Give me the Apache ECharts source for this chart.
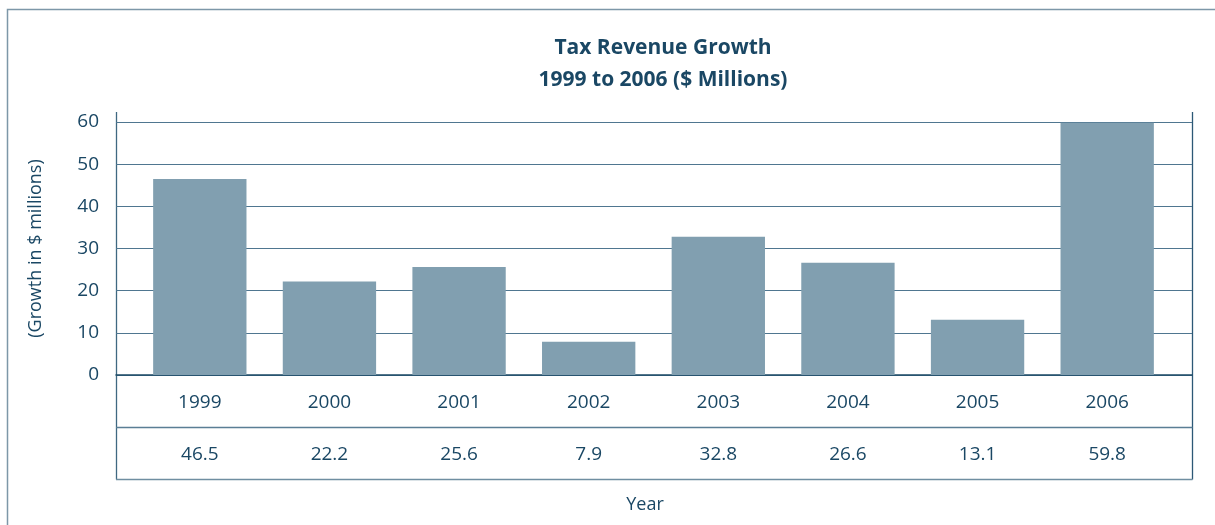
<!DOCTYPE html>
<html>
<head>
<meta charset="utf-8">
<style>
  html, body { margin: 0; padding: 0; background: #ffffff; }
  #chart { width: 1215px; height: 525px; }
</style>
<script src="https://cdn.jsdelivr.net/npm/echarts@6/dist/echarts.min.js"></script>
</head>
<body>
<div id="chart"></div>
<script>
// Tax revenue growth by year ($ millions)
const years = ['1999', '2000', '2001', '2002', '2003', '2004', '2005', '2006'];
const growth = [46.5, 22.2, 25.6, 7.9, 32.8, 26.6, 13.1, 59.8];
const yTicks = [0, 10, 20, 30, 40, 50, 60];

const TEXT = '#1a4764';
const LINE = '#4f7690';
const FONT = '"Open Sans", "DejaVu Sans", sans-serif';

const chart = echarts.init(document.getElementById('chart'));

// table row under the bars, one cell per year
const valueLabels = growth.map(v => v.toFixed(1));

chart.setOption({
  animation: false,
  backgroundColor: '#ffffff',
  title: {
    text: 'Tax Revenue Growth\n1999 to 2006 ($ Millions)',
    left: 658,
    top: 27,
    textAlign: 'center',
    textStyle: {
      color: TEXT, fontFamily: FONT, fontWeight: 'bold',
      fontSize: 21, lineHeight: 32
    }
  },
  grid: [
    // full-width frame: gridlines and the zero line
    { left: 116, right: 23, top: 122, bottom: 150 },
    // inset band area holding the bars
    { left: 135, right: 43, top: 122, bottom: 150 }
  ],
  xAxis: [
    {
      gridIndex: 0, type: 'value', min: 0, max: 1,
      axisLine: { show: true, lineStyle: { color: '#1d4a66', width: 1.5 } },
      axisTick: { show: false }, axisLabel: { show: false },
      splitLine: { show: false }
    },
    {
      gridIndex: 1, type: 'category', data: years,
      axisLine: { show: false }, axisTick: { show: false },
      axisLabel: { color: TEXT, fontFamily: FONT, fontSize: 19, margin: 18 }
    },
    {
      gridIndex: 1, type: 'category', data: valueLabels,
      position: 'bottom', offset: 52,
      axisLine: { show: false }, axisTick: { show: false },
      axisLabel: { color: TEXT, fontFamily: FONT, fontSize: 19, margin: 18 }
    }
  ],
  yAxis: [
    {
      gridIndex: 0, type: 'value', min: yTicks[0], max: yTicks[yTicks.length - 1], interval: 10,
      axisLine: { show: false }, axisTick: { show: false },
      axisLabel: { color: TEXT, fontFamily: FONT, fontSize: 19, margin: 17 },
      splitLine: { show: true, lineStyle: { color: LINE, width: 1.2 } },
      name: '(Growth in $ millions)',
      nameLocation: 'middle', nameGap: 71, nameRotate: 90,
      nameTextStyle: { color: TEXT, fontFamily: FONT, fontSize: 18 }
    },
    {
      gridIndex: 1, type: 'value', min: yTicks[0], max: yTicks[yTicks.length - 1], interval: 10,
      show: false
    }
  ],
  series: [
    {
      type: 'bar',
      xAxisIndex: 1, yAxisIndex: 1,
      data: growth,
      barCategoryGap: '28%',
      itemStyle: { color: '#819fb0' },
      z: 3
    }
  ],
  graphic: [
    // outer frame (top and left edges)
    {
      type: 'polyline', silent: true,
      shape: { points: [[7.5, 525], [7.5, 9.5], [1215, 9.5]] },
      style: { stroke: '#7d97a8', lineWidth: 1.5, fill: null }
    },
    // plot frame verticals running down through the table
    {
      type: 'line', silent: true,
      shape: { x1: 116.5, y1: 112, x2: 116.5, y2: 479.5 },
      style: { stroke: '#3f6881', lineWidth: 1.3 }
    },
    {
      type: 'line', silent: true,
      shape: { x1: 1192.5, y1: 112, x2: 1192.5, y2: 479.5 },
      style: { stroke: '#2c5876', lineWidth: 1.3 }
    },
    // table row separators
    {
      type: 'line', silent: true,
      shape: { x1: 116, y1: 427.5, x2: 1192.5, y2: 427.5 },
      style: { stroke: '#5a7e95', lineWidth: 1.3 }
    },
    {
      type: 'line', silent: true,
      shape: { x1: 116, y1: 479.5, x2: 1192.5, y2: 479.5 },
      style: { stroke: '#6f8ea1', lineWidth: 1.3 }
    },
    {
      type: 'text', silent: true,
      x: 645, y: 505,
      style: {
        text: 'Year', fill: TEXT, font: '18px ' + FONT,
        textAlign: 'center', textVerticalAlign: 'middle'
      }
    }
  ]
});
</script>
</body>
</html>
